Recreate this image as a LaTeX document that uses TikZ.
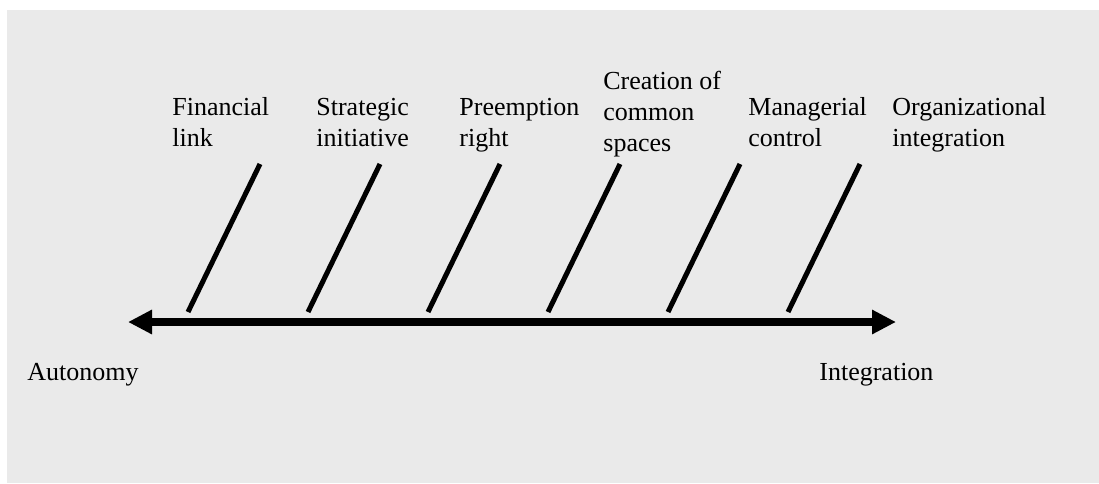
\documentclass[tikz,border=0pt]{standalone}
\usepackage{fontspec}
\setmainfont{Liberation Serif}
\usetikzlibrary{arrows.meta}
\definecolor{panelgray}{RGB}{234,234,234}

\begin{document}
\begin{tikzpicture}[x=0.5pt,y=-0.5pt,
                    lblND/.style={anchor=base west,
                                  inner sep=0pt,
                                  align=left,
                                  font=\fontsize{13pt}{15.3pt}\selectfont},
                    tickLN/.style={line width=2.5pt},
                    axisLN/.style={line width=4pt,
                                   {Triangle[length=12pt,width=11.5pt]}-{Triangle[length=12pt,width=11.5pt]}}]
        \useasboundingbox (0,0) rectangle (1099,483);
        \fill[panelgray] (7,10) rectangle (1099,483);
        % axis
        \coordinate (L) at (128,322);
        \coordinate (R) at (896,322);
        \draw[axisLN] (L) -- (R);
        \node[lblND](auto)  at (27,380)  {Autonomy};
        \node[lblND](integ) at (819,380) {Integration};
        % ticks
        \foreach \i in {0,...,5}{
            \coordinate (b\i) at (188+120*\i,312);
            \coordinate (t\i) at (260+120*\i,164);
            \draw[tickLN] (b\i) -- (t\i);
        }
        % labels (anchored at the last line)
        \node[lblND](fin) at (172,146) {Financial\\link};
        \node[lblND](str) at (316,146) {Strategic\\initiative};
        \node[lblND](pre) at (459,146) {Preemption\\right};
        \node[lblND](cre) at (603,151) {Creation of\\common\\spaces};
        \node[lblND](man) at (748,146) {Managerial\\control};
        \node[lblND](org) at (892,146) {Organizational\\integration};
    \end{tikzpicture}
\end{document}
